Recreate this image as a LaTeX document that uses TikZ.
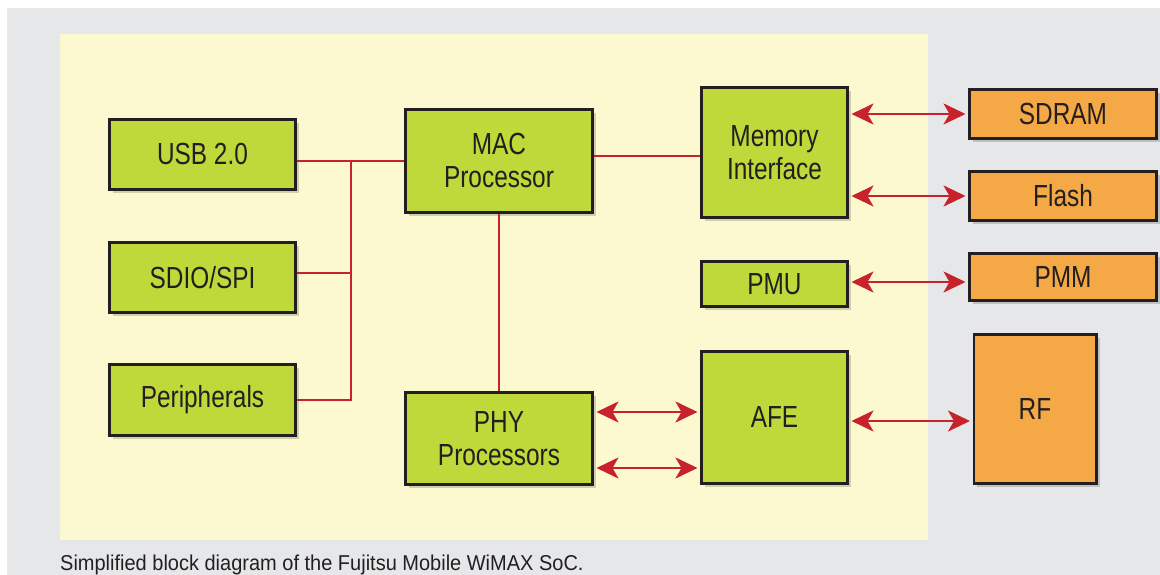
\documentclass[tikz,border=0pt]{standalone}
\usepackage{fontspec}
\setmainfont{Liberation Sans}[FakeStretch=0.8]
\newfontfamily\capfont{Liberation Sans}[FakeStretch=0.93]
\usetikzlibrary{arrows.meta,shadows}
\definecolor{bggray}{HTML}{E6E7E9}
\definecolor{panel}{HTML}{FCF8D0}
\definecolor{lime}{HTML}{BFD83A}
\definecolor{orng}{HTML}{F5A846}
\definecolor{wire}{HTML}{C8232B}
\definecolor{ink}{HTML}{231F20}
\tikzset{
  blk/.style={draw=ink, line width=2.8pt, text=ink, align=center, inner sep=0pt,
    font=\fontsize{30.5}{33}\selectfont,
    drop shadow={shadow xshift=3.5pt, shadow yshift=-3.5pt, fill=black, opacity=0.17}},
  chip/.style={blk, fill=lime},
  ext/.style={blk, fill=orng},
  bus/.style={draw=wire, line width=2.8pt},
  biarrow/.style={bus, {Stealth[length=22pt,width=21pt,inset=6pt]}-{Stealth[length=22pt,width=21pt,inset=6pt]}, shorten <=2.5pt, shorten >=2.5pt}
}
\begin{document}
\begin{tikzpicture}[x=1pt,y=-1pt]
\useasboundingbox (0,0) rectangle (1160,575);
\fill[white] (0,0) rectangle (1160,575);
\fill[bggray] (7,8) rectangle (1160,575);
\fill[panel] (60,34) rectangle (928,540);

\node[chip, minimum width=186.2pt, minimum height=70.2pt] (usb) at (202.5,154.5) {USB 2.0};
\node[chip, minimum width=186.2pt, minimum height=70.2pt] (sdio) at (202.5,277.5) {SDIO/SPI};
\node[chip, minimum width=186.2pt, minimum height=71.2pt] (per) at (202.5,400) {Peripherals};
\node[chip, minimum width=187.2pt, minimum height=103.2pt] (mac) at (499,161) {MAC\\Processor};
\node[chip, minimum width=187.2pt, minimum height=92.2pt] (phy) at (499,438.5) {PHY\\Processors};
\node[chip, minimum width=146.2pt, minimum height=130.2pt] (mem) at (774.5,152.5) {Memory\\Interface};
\node[chip, minimum width=146.2pt, minimum height=45.2pt] (pmu) at (774.5,284) {PMU};
\node[chip, minimum width=146.2pt, minimum height=132.2pt] (afe) at (774.5,417.5) {AFE};
\node[ext, minimum width=187.2pt, minimum height=49.2pt] (sdram) at (1063,114) {SDRAM};
\node[ext, minimum width=187.2pt, minimum height=49.2pt] (flash) at (1063,196) {Flash};
\node[ext, minimum width=187.2pt, minimum height=47.2pt] (pmm) at (1063,277) {PMM};
\node[ext, minimum width=122.2pt, minimum height=149.2pt] (rf) at (1035,409) {RF};

\coordinate (jt) at (351,0);
\draw[bus] (usb.east |- mac.west) -- (mac.west);
\draw[bus] (jt |- mac.west) -- (jt |- per.east) -- (per.east);
\draw[bus] (sdio.east) ++(0,-4.5) coordinate (se) -- (jt |- se);
\draw[bus] (mac.south) -- (phy.north);
\draw[bus] (mac.east |- 0,156) coordinate (me) -- (mem.west |- me);

\draw[biarrow] (mem.east |- sdram.west) -- (sdram.west);
\draw[biarrow] (mem.east |- flash.west) -- (flash.west);
\draw[biarrow] ([yshift=2pt]pmu.east) coordinate (pe) -- (pmm.west |- pe);
\draw[biarrow] ([yshift=-3.5pt]afe.east) coordinate (ae) -- (rf.west |- ae);
\draw[biarrow] ([yshift=26.5pt]phy.east) coordinate (p1) -- (afe.west |- p1);
\draw[biarrow] ([yshift=-29.5pt]phy.east) coordinate (p2) -- (afe.west |- p2);

\node[anchor=base west, inner sep=0pt, text=ink, font=\capfont\fontsize{21.5}{24}\selectfont] (cap) at (60,570) {Simplified block diagram of the Fujitsu Mobile WiMAX SoC.};
\end{tikzpicture}
\end{document}
